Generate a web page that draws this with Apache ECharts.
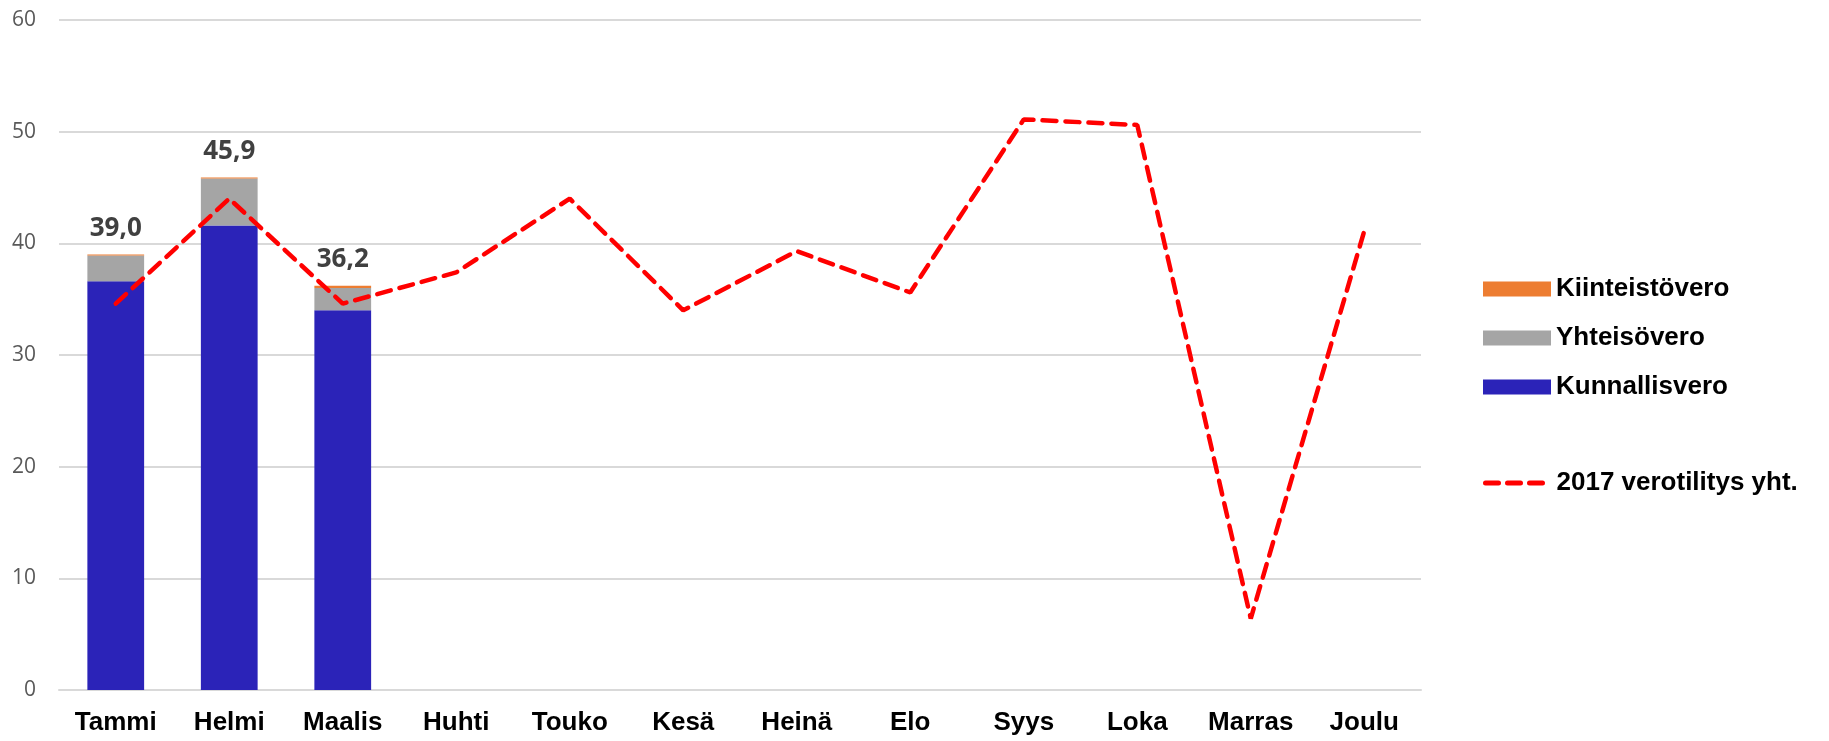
<!DOCTYPE html>
<html>
<head>
<meta charset="utf-8">
<script src="https://cdn.jsdelivr.net/npm/echarts@6/dist/echarts.min.js"></script>
<style>
  html, body { margin: 0; padding: 0; background: #fff; }
  #chart { width: 1829px; height: 741px; }
</style>
</head>
<body>
<div id="chart"></div>
<script>
// kuukaudet
var months = ['Tammi', 'Helmi', 'Maalis', 'Huhti', 'Touko', 'Kesä', 'Heinä', 'Elo', 'Syys', 'Loka', 'Marras', 'Joulu'];
// 2018 tilitykset (milj. €)
var kunnallisvero = [36.6, 41.6, 34.0];
var yhteisovero = [2.3, 4.2, 2.0];
var kiinteistovero = [0.1, 0.1, 0.2];
// 2017 verotilitys yhteensä
var verotilitys2017 = [34.6, 44.0, 34.6, 37.4, 44.0, 34.0, 39.3, 35.6, 51.1, 50.6, 6.4, 41.1];
var yTicks = [0, 10, 20, 30, 40, 50, 60];

var chart = echarts.init(document.getElementById('chart'));

var legendText = {
    fontFamily: 'Liberation Sans, Arial, sans-serif',
    fontWeight: 'bold',
    fontSize: 26,
    lineHeight: 28,
    color: '#000'
};

chart.setOption({
    animation: false,
    grid: {
        left: 59,
        right: 408,
        top: 20,
        bottom: 51
    },
    legend: [
        {
            data: ['Kiinteistövero', 'Yhteisövero', 'Kunnallisvero'],
            orient: 'vertical',
            left: 1478,
            top: 270,
            icon: 'rect',
            itemWidth: 68,
            itemHeight: 15,
            itemGap: 21,
            textStyle: legendText
        },
        {
            data: [{
                name: '2017 verotilitys yht.',
                itemStyle: { color: 'rgba(0,0,0,0)', borderWidth: 0 }
            }],
            orient: 'vertical',
            left: 1478,
            top: 464,
            itemWidth: 66,
            itemHeight: 15,
            lineStyle: {
                color: '#ff0000',
                width: 5,
                type: [13, 9],
                cap: 'round'
            },
            textStyle: legendText
        }
    ],
    xAxis: {
        type: 'category',
        data: months,
        axisTick: { show: false },
        axisLine: { show: true, lineStyle: { color: '#d9d9d9', width: 2 } },
        axisLabel: {
            interval: 0,
            margin: 20,
            fontFamily: 'Liberation Sans, Arial, sans-serif',
            fontWeight: 'bold',
            fontSize: 26,
            color: '#000'
        }
    },
    yAxis: {
        type: 'value',
        min: yTicks[0],
        max: yTicks[yTicks.length - 1],
        interval: 10,
        axisLine: { show: false },
        axisTick: { show: false },
        splitLine: { lineStyle: { color: '#d9d9d9', width: 2 } },
        axisLabel: {
            margin: 23,
            fontFamily: 'Open Sans, Noto Sans, sans-serif',
            fontSize: 21,
            color: '#595959'
        }
    },
    series: [
        {
            name: 'Kunnallisvero',
            type: 'bar',
            stack: 'vero',
            barWidth: '50%',
            data: kunnallisvero,
            itemStyle: { color: '#2b23b8' }
        },
        {
            name: 'Yhteisövero',
            type: 'bar',
            stack: 'vero',
            data: yhteisovero,
            itemStyle: { color: '#a5a5a5' }
        },
        {
            name: 'Kiinteistövero',
            type: 'bar',
            stack: 'vero',
            data: kiinteistovero,
            itemStyle: { color: '#ed7d31' },
            label: {
                show: true,
                position: 'top',
                distance: 13,
                fontFamily: 'Open Sans, Noto Sans, sans-serif',
                fontWeight: 'bold',
                fontSize: 26,
                color: '#404040',
                formatter: function (p) {
                    var i = p.dataIndex;
                    var sum = kunnallisvero[i] + yhteisovero[i] + kiinteistovero[i];
                    return sum.toFixed(1).replace('.', ',');
                }
            }
        },
        {
            name: '2017 verotilitys yht.',
            type: 'line',
            data: verotilitys2017,
            symbol: 'none',
            z: 5,
            lineStyle: {
                color: '#ff0000',
                width: 4.5,
                type: [14, 9],
                cap: 'round'
            },
            itemStyle: { color: '#ff0000' }
        }
    ]
});

window.addEventListener('resize', function () {
    chart.resize();
});
</script>
</body>
</html>
